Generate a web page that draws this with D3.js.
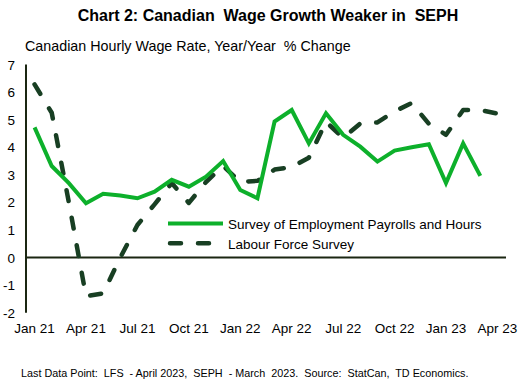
<!DOCTYPE html>
<html>
<head>
<meta charset="utf-8">
<script src="https://cdn.jsdelivr.net/npm/d3@7"></script>
<style>
  body { margin: 0; background: #fff; }
  text { font-family: Arial, "Liberation Sans", sans-serif; fill: #000; white-space: pre; }
</style>
</head>
<body>
<svg id="chart" width="518" height="387"></svg>
<script>
var months = ["Jan 21","Feb 21","Mar 21","Apr 21","May 21","Jun 21","Jul 21","Aug 21","Sep 21","Oct 21","Nov 21","Dec 21",
  "Jan 22","Feb 22","Mar 22","Apr 22","May 22","Jun 22","Jul 22","Aug 22","Sep 22","Oct 22","Nov 22","Dec 22",
  "Jan 23","Feb 23","Mar 23","Apr 23"];
var tickLabels = ["Jan 21","Apr 21","Jul 21","Oct 21","Jan 22","Apr 22","Jul 22","Oct 22","Jan 23","Apr 23"];
var yTicks = [-2,-1,0,1,2,3,4,5,6,7];

// SEPH ends Mar 23
var seph = [4.72,3.32,2.7,1.97,2.31,2.25,2.15,2.39,2.82,2.57,2.93,3.5,
  2.45,2.15,4.93,5.35,4.14,5.23,4.45,4.02,3.48,3.88,4.0,4.11,
  2.7,4.14,2.96];
// LFS ends Apr 23
var lfs = [6.28,5.25,2.0,-1.4,-1.3,0.0,1.18,1.93,2.7,1.98,2.74,3.32,
  2.74,2.78,3.19,3.28,3.62,4.92,4.34,4.86,4.9,5.3,5.6,4.85,
  4.45,5.35,5.35,5.22];

var seriesNames = ["Survey of Employment Payrolls and Hours","Labour Force Survey"];
var green = "#0db02b", dark = "#183f23", axisCol = "#1b2612";

var svg = d3.select("#chart");
var x = d3.scaleBand().domain(months).range([26, 506]).padding(0);
var y = d3.scaleLinear().domain([-2, 7]).range([312.7, 64.5]);
var cx = function(i){ return x(months[i]) + x.bandwidth()/2; };

// title + subtitle
svg.append("text").attr("x", 268).attr("y", 21).attr("text-anchor","middle")
  .style("font-size","16px").style("font-weight","bold")
  .text("Chart 2: Canadian  Wage Growth Weaker in  SEPH");
svg.append("text").attr("x", 25).attr("y", 51).style("font-size","14.3px")
  .text("Canadian Hourly Wage Rate, Year/Year  % Change");

// y axis labels
svg.selectAll(".ylab").data(yTicks).enter().append("text")
  .attr("class","ylab")
  .attr("x", 15).attr("y", function(d){ return y(d) + 5; })
  .attr("text-anchor","end").style("font-size","13.5px")
  .text(function(d){ return d; });

// x labels
svg.selectAll(".xlab").data(tickLabels).enter().append("text")
  .attr("class","xlab")
  .attr("x", function(d){ return x(d) + x.bandwidth()/2; })
  .attr("y", 333).attr("text-anchor","middle").style("font-size","13.5px")
  .text(function(d){ return d; });

// axes lines
svg.append("line").attr("x1", 26).attr("x2", 26).attr("y1", y(7)).attr("y2", y(-2))
  .attr("stroke", axisCol).attr("stroke-width", 2);
svg.append("line").attr("x1", 26).attr("x2", 506).attr("y1", y(0)).attr("y2", y(0))
  .attr("stroke", axisCol).attr("stroke-width", 2);

var line = d3.line().x(function(d, i){ return cx(i); }).y(function(d){ return y(d); });

svg.append("path").datum(lfs).attr("d", line).attr("fill","none")
  .attr("stroke", dark).attr("stroke-width", 4.5)
  .attr("stroke-dasharray","11,17").attr("stroke-linecap","round").attr("stroke-linejoin","round");

svg.append("path").datum(seph).attr("d", line).attr("fill","none")
  .attr("stroke", green).attr("stroke-width", 4).attr("stroke-linejoin","miter");

// legend
var leg = svg.append("g");
leg.append("line").attr("x1",168).attr("x2",223).attr("y1",223.5).attr("y2",223.5)
  .attr("stroke", green).attr("stroke-width", 4);
leg.append("line").attr("x1",170).attr("x2",210).attr("y1",243.3).attr("y2",243.3)
  .attr("stroke", dark).attr("stroke-width", 4.5)
  .attr("stroke-dasharray","11,17").attr("stroke-linecap","round");
leg.append("text").attr("x",228).attr("y",228.5).style("font-size","13.5px").text(seriesNames[0]);
leg.append("text").attr("x",228).attr("y",248.5).style("font-size","13.5px").text(seriesNames[1]);

// footnote
svg.append("text").attr("x", 21).attr("y", 377).style("font-size","10.8px")
  .text("Last Data Point:  LFS  - April 2023,  SEPH  - March  2023.  Source:  StatCan,  TD Economics.");
</script>
</body>
</html>
